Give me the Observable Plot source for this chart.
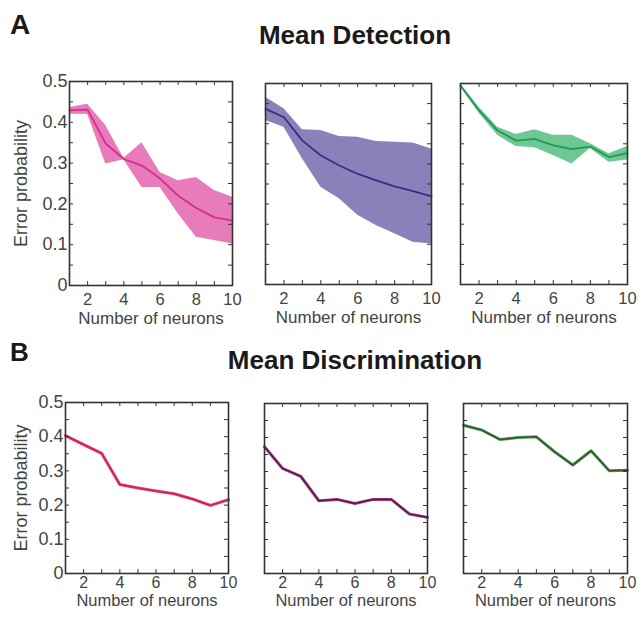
<!DOCTYPE html>
<html>
<head>
<meta charset="utf-8">
<script src="https://cdn.jsdelivr.net/npm/d3@7"></script>
<script src="https://cdn.jsdelivr.net/npm/@observablehq/plot@0.6"></script>
<style>
  body { margin: 0; background: #fff; }
  #fig { position: relative; width: 638px; height: 618px; background: #fff; font-family: "Liberation Sans", Arial, sans-serif; color: #1a1a1a; overflow: hidden; }
  .lbl { position: absolute; font-weight: bold; line-height: 1; }
  .panel { position: absolute; }
</style>
</head>
<body>
<div id="fig">
  <div class="lbl" style="left:10px; top:11px; font-size:28px;">A</div>
  <div class="lbl" style="left:0; width:710px; text-align:center; top:22px; font-size:26px;">Mean Detection</div>
  <div class="lbl" style="left:10px; top:339px; font-size:26px;">B</div>
  <div class="lbl" style="left:0; width:710px; text-align:center; top:347px; font-size:26px;">Mean Discrimination</div>
</div>
<script>
// Number of neurons on the x axis
const neurons = [1, 2, 3, 4, 5, 6, 7, 8, 9, 10];
const xTickLabels = [2, 4, 6, 8, 10];
const xMinorTicks = [2, 3, 4, 5, 6, 7, 8, 9];
const yTickLabels = [0, 0.1, 0.2, 0.3, 0.4, 0.5];
const yMinorTicks = [0.05, 0.1, 0.15, 0.2, 0.25, 0.3, 0.35, 0.4, 0.45];
const xTitle = "Number of neurons";
const yTitle = "Error probability";

// Mean detection: mean error with lower / upper band
const detPinkMean = [0.430, 0.431, 0.348, 0.310, 0.294, 0.262, 0.220, 0.190, 0.167, 0.159];
const detPinkLow  = [0.420, 0.420, 0.298, 0.308, 0.240, 0.240, 0.176, 0.118, 0.110, 0.102];
const detPinkHigh = [0.436, 0.444, 0.392, 0.312, 0.350, 0.277, 0.257, 0.265, 0.233, 0.216];

const detPurpleMean = [0.437, 0.416, 0.358, 0.321, 0.296, 0.275, 0.259, 0.244, 0.232, 0.219];
const detPurpleLow  = [0.408, 0.391, 0.313, 0.242, 0.213, 0.172, 0.147, 0.126, 0.105, 0.101];
const detPurpleHigh = [0.466, 0.437, 0.385, 0.383, 0.368, 0.366, 0.356, 0.354, 0.352, 0.337];

const detGreenMean = [0.495, 0.433, 0.383, 0.358, 0.362, 0.346, 0.337, 0.343, 0.317, 0.327];
const detGreenLow  = [0.491, 0.426, 0.371, 0.343, 0.340, 0.321, 0.300, 0.338, 0.304, 0.310];
const detGreenHigh = [0.499, 0.441, 0.391, 0.373, 0.385, 0.371, 0.371, 0.350, 0.325, 0.343];

// Mean discrimination
const disPink   = [0.403, 0.377, 0.351, 0.260, 0.250, 0.241, 0.233, 0.218, 0.199, 0.216];
const disPurple = [0.373, 0.309, 0.286, 0.214, 0.218, 0.206, 0.218, 0.218, 0.175, 0.165];
const disGreen  = [0.436, 0.422, 0.394, 0.400, 0.402, 0.358, 0.319, 0.361, 0.302, 0.304];

const ink = "#333";
const textInk = "#444";
const font = "Liberation Sans, Arial, sans-serif";
const M = {left: 70, right: 11, top: 8, bottom: 45};

function rows(mean, low, high) {
  return neurons.map((n, i) => ({n, mean: mean[i], low: low ? low[i] : null, high: high ? high[i] : null}));
}

function panel({frame, showY, tickPad, tickSize, titleDy, titleSize, yTitleDx, layers}) {
  const [L, T, R, B] = frame;
  const innerW = R - L;
  const innerH = B - T;
  const width = innerW + M.left + M.right;
  const height = innerH + M.top + M.bottom;
  const marks = [
    ...layers,
    // inward minor ticks on all four sides
    Plot.tickX(xMinorTicks, {x: d => d, insetTop: innerH - 4, stroke: ink, strokeWidth: 1}),
    Plot.tickX(xMinorTicks, {x: d => d, insetBottom: innerH - 4, stroke: ink, strokeWidth: 1}),
    Plot.tickY(yMinorTicks, {y: d => d, insetRight: innerW - 4, stroke: ink, strokeWidth: 1}),
    Plot.tickY(yMinorTicks, {y: d => d, insetLeft: innerW - 4, stroke: ink, strokeWidth: 1}),
    Plot.frame({stroke: ink, strokeWidth: 1.6}),
    Plot.axisX({ticks: xTickLabels, tickSize: 0, tickPadding: tickPad, fontSize: tickSize, fill: textInk, tickFormat: d => String(d), label: null}),
    Plot.text([xTitle], {frameAnchor: "bottom", dy: titleDy, fontSize: titleSize, fill: textInk})
  ];
  if (showY) {
    marks.push(
      Plot.axisY({ticks: yTickLabels, tickSize: 0, tickPadding: 2, fontSize: 18, fill: textInk, tickFormat: d => d === 0 ? "0" : d.toFixed(1), label: null}),
      Plot.text([yTitle], {frameAnchor: "left", textAnchor: "middle", dx: yTitleDx, rotate: -90, fontSize: 18, fill: textInk})
    );
  }
  const svg = Plot.plot({
    width, height,
    marginLeft: M.left, marginRight: M.right, marginTop: M.top, marginBottom: M.bottom,
    style: {fontFamily: font, background: "transparent", overflow: "visible"},
    x: {domain: [1, 10], axis: null},
    y: {domain: [0, 0.5], axis: null},
    marks
  });
  const wrap = document.createElement("div");
  wrap.className = "panel";
  wrap.style.left = (L - M.left) + "px";
  wrap.style.top = (T - M.top) + "px";
  wrap.appendChild(svg);
  document.getElementById("fig").appendChild(wrap);
}

function band(data, fill, line) {
  return [
    Plot.areaY(data, {x: "n", y1: "low", y2: "high", fill, fillOpacity: 1}),
    Plot.line(data, {x: "n", y: "mean", stroke: line, strokeWidth: 1.8})
  ];
}

function trace(data, under, over) {
  return [
    Plot.line(data, {x: "n", y: "mean", stroke: under, strokeWidth: 3}),
    Plot.line(data, {x: "n", y: "mean", stroke: over, strokeWidth: 1.6})
  ];
}

const rowA = {tickPad: 8, tickSize: 16.5, titleDy: 38, titleSize: 17, yTitleDx: -48};
const rowB = {tickPad: 3, tickSize: 16, titleDy: 32, titleSize: 16.5, yTitleDx: -44};

// Row A: detection
panel({...rowA, frame: [69, 81, 232, 285], showY: true,
  layers: band(rows(detPinkMean, detPinkLow, detPinkHigh), "#e87bb9", "#d42f8e")});
panel({...rowA, frame: [265, 83, 431, 284], showY: false,
  layers: band(rows(detPurpleMean, detPurpleLow, detPurpleHigh), "#8c80bb", "#3b2d85")});
panel({...rowA, frame: [460, 83, 627, 284], showY: false,
  layers: band(rows(detGreenMean, detGreenLow, detGreenHigh), "#6fc794", "#1f9a55")});

// Row B: discrimination
panel({...rowB, frame: [65, 402, 228, 573], showY: true,
  layers: trace(rows(disPink), "#e0457a", "#d4205c")});
panel({...rowB, frame: [264, 403, 427, 573], showY: false,
  layers: trace(rows(disPurple), "#c2407f", "#4a2356")});
panel({...rowB, frame: [463, 403, 627, 573], showY: false,
  layers: trace(rows(disGreen), "#3fae5a", "#4a4a2e")});
</script>
</body>
</html>
